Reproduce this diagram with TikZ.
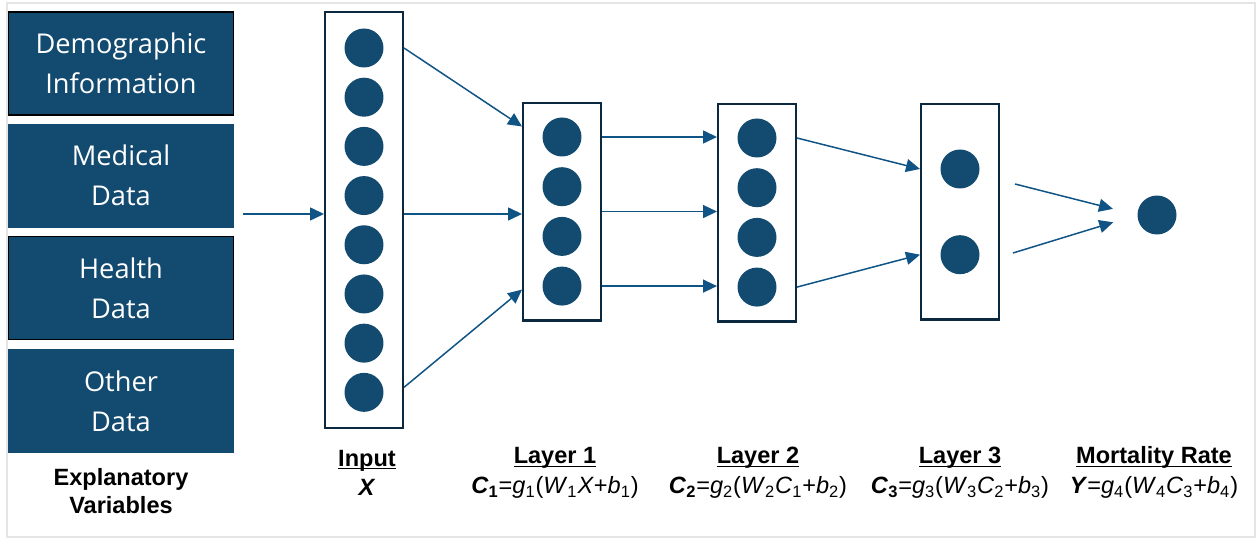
\documentclass[tikz,border=0pt]{standalone}
\usepackage{fontspec}
\setmainfont{Liberation Sans}
\newfontfamily\boxfont{Open Sans}
\usetikzlibrary{backgrounds,fit,positioning,arrows.meta}
\definecolor{unitblue}{RGB}{19,74,111}
\definecolor{linkblue}{RGB}{16,84,133}
\definecolor{edgeblue}{RGB}{10,40,64}
\newcommand{\sv}[2]{\textit{#1}\textsubscript{#2}}
\newcommand{\headline}[1]{\textbf{\underline{\smash{#1}}}}

\begin{document}
\begin{tikzpicture}[x=0.02cm,y=-0.02cm]
    % `unit' is a neuron, `layer' the frame round a column of neurons.
    % `source' is a block of explanatory variables on the left.
    \tikzstyle{unit} = [circle,fill=unitblue,minimum size=0.78cm,inner sep=0pt]
    \tikzstyle{layer} = [draw=edgeblue,line width=1.3pt,fill=white,inner xsep=0.38cm]
    \tikzstyle{source} = [fill=unitblue,minimum width=4.5cm,minimum height=2.06cm,
                          text=white,align=center,font=\boxfont\fontsize{15.5}{22.8}\selectfont]
    \tikzstyle{link} = [draw=linkblue,line width=0.85pt,-{Triangle[length=0.28cm,width=0.26cm]}]
    \tikzstyle{caption} = [align=center,font=\fontsize{13.4}{17}\selectfont]
    %
    \useasboundingbox (0,0) rectangle (1259,540);
    \draw[gray!20,line width=1.2pt] (7,3) rectangle (1255,537);
    %
    \node[source,draw=black,line width=1pt] (demo) at (121,63.5) {Demographic\\Information};
    \node[source,draw=unitblue] (medical) at (121,175.5) {Medical\\Data};
    \node[source,draw=black,line width=1pt] (health) at (121,288) {Health\\Data};
    \node[source,draw=unitblue] (other) at (121,401) {Other\\Data};
    \node[caption,font=\bfseries\fontsize{13.4}{16}\selectfont] (explan) at (121,491)
        {Explanatory\\Variables};
    %
    % Input neurons.
    \node[unit] (x1) at (364,48) {};
    \node[unit] (x2) [below=0.19cm of x1] {};
    \node[unit] (x3) [below=0.19cm of x2] {};
    \node[unit] (x4) [below=0.19cm of x3] {};
    \node[unit] (x5) [below=0.19cm of x4] {};
    \node[unit] (x6) [below=0.19cm of x5] {};
    \node[unit] (x7) [below=0.19cm of x6] {};
    \node[unit] (x8) [below=0.19cm of x7] {};
    % Hidden layers and output.
    \node[unit] (h1) at (562,137) {};
    \node[unit] (h2) [below=0.2cm of h1] {};
    \node[unit] (h3) [below=0.2cm of h2] {};
    \node[unit] (h4) [below=0.2cm of h3] {};
    \node[unit] (k1) at (757,138) {};
    \node[unit] (k2) [below=0.2cm of k1] {};
    \node[unit] (k3) [below=0.2cm of k2] {};
    \node[unit] (k4) [below=0.2cm of k3] {};
    \node[unit] (m1) at (960,169) {};
    \node[unit] (m2) [below=0.92cm of m1] {};
    \node[unit] (out) at (1157,215) {};
    %
    \begin{pgfonlayer}{background}
        % Draw layer frames.
        \node[layer,inner ysep=0.32cm] (inbox) [fit = (x1) (x8)] {};
        \node[layer,inner ysep=0.29cm] (l1box) [fit = (h1) (h4)] {};
        \node[layer,inner ysep=0.29cm] (l2box) [fit = (k1) (k4)] {};
        \node[layer,inner ysep=0.9cm] (l3box) [fit = (m1) (m2)] {};
    \end{pgfonlayer}
    %
    \coordinate (feed) at (243,214);
    \coordinate (s1) at (1015,184);
    \coordinate (s2) at (1013,253);
    \draw[link] (feed) -- (inbox.west |- feed);
    \draw[link] (inbox.east |- x1) -- ([yshift=-0.5cm]l1box.north west);
    \draw[link] (inbox.east |- feed) -- (l1box.west |- feed);
    \draw[link] ([yshift=0.84cm]inbox.south east) -- ([yshift=0.64cm]l1box.south west);
    \draw[link] (l1box.east |- h1) -- (l2box.west |- h1);
    \draw[link] (l1box.east) -- (l2box.west |- l1box.east);
    \draw[link] (l1box.east |- h4) -- (l2box.west |- h4);
    \draw[link] (l2box.east |- k1) -- (l3box.west |- m1);
    \draw[link] (l2box.east |- k4) -- (l3box.west |- m2);
    \draw[link,shorten >=0.5cm] (s1) -- (out.west);
    \draw[link,shorten >=0.5cm] (s2) -- (out.west);
    %
    % Captions under the layers.
    \node[caption] (incap) at (367,481) {\headline{Input}\\\textbf{\textit{X}}};
    \node[caption] (l1cap) at (555,481) {\headline{Layer 1}\\
        \textbf{\sv{C}{1}}=\sv{g}{1}(\sv{W}{1}\textit{X}+\sv{b}{1})};
    \node[caption] (l2cap) at (758,481) {\headline{Layer 2}\\
        \textbf{\sv{C}{2}}=\sv{g}{2}(\sv{W}{2}\sv{C}{1}+\sv{b}{2})};
    \node[caption] (l3cap) at (960,481) {\headline{Layer 3}\\
        \textbf{\sv{C}{3}}=\sv{g}{3}(\sv{W}{3}\sv{C}{2}+\sv{b}{3})};
    \node[caption] (outcap) at (1154,481) {\headline{Mortality Rate}\\
        \textbf{\textit{Y}}=\sv{g}{4}(\sv{W}{4}\sv{C}{3}+\sv{b}{4})};
\end{tikzpicture}
\end{document}
